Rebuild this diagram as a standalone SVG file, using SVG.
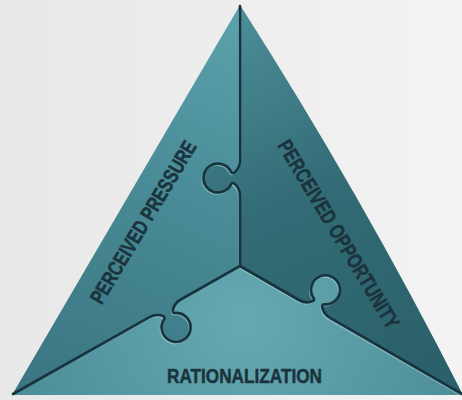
<svg xmlns="http://www.w3.org/2000/svg" width="462" height="400" viewBox="0 0 462 400">
  <style>
    .lbl { font-family: "Liberation Sans Narrow", "Liberation Sans", Arial, sans-serif; font-weight: bold; font-size: 21px; fill: #1b333d; stroke: #1b333d; stroke-width: 0.5; }
    .seam { fill: none; stroke: #17343d; stroke-width: 2.6; stroke-linejoin: round; stroke-linecap: round; }
    .hi { fill: none; stroke: #b9dde2; stroke-width: 1.6; stroke-opacity: 0.45; stroke-linejoin: round; }
  </style>
  <defs>
    <linearGradient id="bg" x1="0" y1="0" x2="462" y2="0" gradientUnits="userSpaceOnUse">
      <stop offset="0" stop-color="#e8e8e8"/>
      <stop offset="1" stop-color="#f3f3f3"/>
    </linearGradient>
    <linearGradient id="gP" x1="235" y1="20" x2="60" y2="385" gradientUnits="userSpaceOnUse">
      <stop offset="0" stop-color="#5aa1ab"/>
      <stop offset="0.5" stop-color="#478994"/>
      <stop offset="1" stop-color="#3b7782"/>
    </linearGradient>
    <linearGradient id="gO" x1="245" y1="20" x2="420" y2="385" gradientUnits="userSpaceOnUse">
      <stop offset="0" stop-color="#4b8c96"/>
      <stop offset="0.45" stop-color="#336c76"/>
      <stop offset="1" stop-color="#2a606a"/>
    </linearGradient>
    <radialGradient id="gR" cx="245" cy="320" r="230" gradientUnits="userSpaceOnUse">
      <stop offset="0" stop-color="#66a9b2"/>
      <stop offset="1" stop-color="#4d8e98"/>
    </radialGradient>
  </defs>

  <rect x="0" y="0" width="462" height="400" fill="url(#bg)"/>

  <g id="pressure">
    <path fill="url(#gP)" d="M240,5 L12,395 L149.5,317.2 C157.3,312.8 166.6,315.8 164.3,319.0 A14.5,14.5 0 1 0 174.7,313.0 C170.8,313.4 173.0,303.9 180.8,299.5 L240,266 L240,196 C240,187 232.8,180.4 231.2,184 A14.5,14.5 0 1 1 231.2,172 C232.8,175.6 240,169 240,160 Z"/>
    <text class="lbl" transform="translate(143,222) rotate(-59)" text-anchor="middle" dy="0.36em" textLength="186" lengthAdjust="spacingAndGlyphs">PERCEIVED PRESSURE</text>
  </g>

  <g id="opportunity">
    <path fill="url(#gO)" d="M240,5 L240,160 C240,169 232.8,175.6 231.2,172 A14.5,14.5 0 1 0 231.2,184 C232.8,180.4 240,187 240,196 L240,266 L298.9,300.0 C306.7,304.5 316.0,301.5 313.7,298.3 A14.5,14.5 0 1 1 324.1,304.3 C320.2,303.9 322.3,313.4 330.1,317.9 L463,395 Q361,194 240,5 Z"/>
    <text class="lbl" transform="translate(339,234) rotate(59)" text-anchor="middle" dy="0.36em" textLength="216" lengthAdjust="spacingAndGlyphs">PERCEIVED OPPORTUNITY</text>
  </g>

  <g id="rationalization">
    <path fill="url(#gR)" d="M12,395 L149.5,317.2 C157.3,312.8 166.6,315.8 164.3,319.0 A14.5,14.5 0 1 0 174.7,313.0 C170.8,313.4 173.0,303.9 180.8,299.5 L240,266 L298.9,300.0 C306.7,304.5 316.0,301.5 313.7,298.3 A14.5,14.5 0 1 1 324.1,304.3 C320.2,303.9 322.3,313.4 330.1,317.9 L463,395 Z"/>
    <text class="lbl" x="244.5" y="383" text-anchor="middle" textLength="155" lengthAdjust="spacingAndGlyphs">RATIONALIZATION</text>
  </g>

  <g id="seams">
    <g transform="translate(-1.2,1.6)">
      <path class="hi" d="M240,266 L240,196 C240,187 232.8,180.4 231.2,184 A14.5,14.5 0 1 1 231.2,172 C232.8,175.6 240,169 240,160 L240,8"/>
      <path class="hi" d="M240,266 L180.8,299.5 C173.0,303.9 170.8,313.4 174.7,313.0 A14.5,14.5 0 1 1 164.3,319.0 C166.6,315.8 157.3,312.8 149.5,317.2 L14,393"/>
      <path class="hi" d="M240,266 L298.9,300.0 C306.7,304.5 316.0,301.5 313.7,298.3 A14.5,14.5 0 1 1 324.1,304.3 C320.2,303.9 322.3,313.4 330.1,317.9 L461,393"/>
    </g>
    <path class="seam" d="M240,266 L240,196 C240,187 232.8,180.4 231.2,184 A14.5,14.5 0 1 1 231.2,172 C232.8,175.6 240,169 240,160 L240,6"/>
    <path class="seam" d="M240,266 L180.8,299.5 C173.0,303.9 170.8,313.4 174.7,313.0 A14.5,14.5 0 1 1 164.3,319.0 C166.6,315.8 157.3,312.8 149.5,317.2 L13,394"/>
    <path class="seam" d="M240,266 L298.9,300.0 C306.7,304.5 316.0,301.5 313.7,298.3 A14.5,14.5 0 1 1 324.1,304.3 C320.2,303.9 322.3,313.4 330.1,317.9 L462,394"/>
  </g>
</svg>
